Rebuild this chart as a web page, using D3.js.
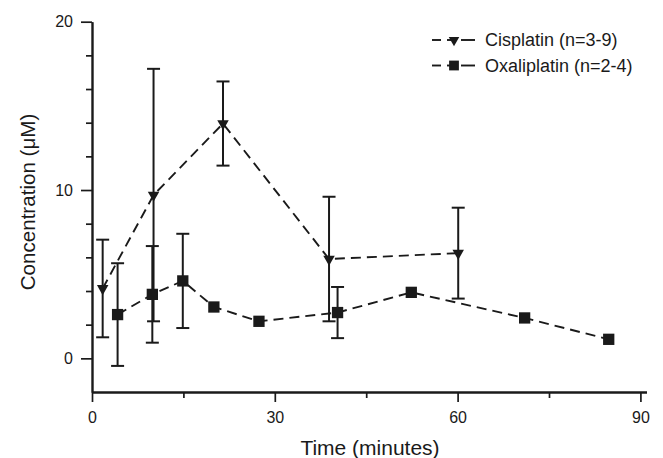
<!DOCTYPE html>
<html>
<head>
<meta charset="utf-8">
<script src="https://cdn.jsdelivr.net/npm/d3@7"></script>
<style>
  html, body { margin: 0; padding: 0; background: #fff; }
  svg { display: block; font-family: "Liberation Sans", Arial, sans-serif; }
</style>
</head>
<body>
<svg id="chart" width="663" height="458"></svg>
<script>
// ---- Data ----
const cisTime   = [1.75, 10.1, 21.5, 38.9, 60.1];
const cisConc   = [4.15, 9.7, 13.95, 5.9, 6.25];
const cisErr    = [2.9, 7.5, 2.5, 3.7, 2.7];

const oxaTime   = [4.2, 9.9, 14.9, 20.0, 27.4, 40.3, 52.4, 71.0, 84.8];
const oxaConc   = [2.6, 3.8, 4.6, 3.05, 2.2, 2.72, 3.92, 2.4, 1.13];
const oxaErr    = [3.05, 2.87, 2.8, null, null, 1.52, null, null, null];

const xMajorTicks = [0, 30, 60, 90];
const xMinorTicks = [15, 45, 75];
const yMajorTicks = [0, 10, 20];
const yMinorTicks = [2, 4, 6, 8, 12, 14, 16, 18];

const seriesNames = ["Cisplatin (n=3-9)", "Oxaliplatin (n=2-4)"];
const xTitle = "Time (minutes)";
const yTitle = "Concentration (\u03BCM)";

// ---- Layout ----
const ink = "#1a1a1a";
const svg = d3.select("#chart");
const x = d3.scaleLinear().domain([0, 91]).range([92, 646.5]);
const y = d3.scaleLinear().domain([-2, 20]).range([392, 21.7]);

const cis = cisTime.map((t, i) => ({t, c: cisConc[i], e: cisErr[i]}));
const oxa = oxaTime.map((t, i) => ({t, c: oxaConc[i], e: oxaErr[i]}));

// ---- Axes ----
function styleAxis(g) {
  g.selectAll("path.domain").attr("stroke", ink).attr("stroke-width", 1.9);
  g.selectAll(".tick line").attr("stroke", ink).attr("stroke-width", 1.7);
  g.selectAll(".tick text").attr("fill", ink).style("font-size", "16px")
    .style("font-family", '"Liberation Sans", Arial, sans-serif');
}

const yAxisMinor = svg.append("g").attr("transform", "translate(92,0)")
  .call(d3.axisLeft(y).tickValues(yMinorTicks).tickSize(6).tickSizeOuter(0).tickFormat(""));
styleAxis(yAxisMinor);
const yAxis = svg.append("g").attr("transform", "translate(92,0)")
  .call(d3.axisLeft(y).tickValues(yMajorTicks).tickSize(11).tickSizeOuter(0).tickPadding(8).tickFormat(d3.format("d")));
styleAxis(yAxis);

const xAxisMinor = svg.append("g").attr("transform", "translate(0,392)")
  .call(d3.axisBottom(x).tickValues(xMinorTicks).tickSize(6).tickSizeOuter(0).tickFormat(""));
styleAxis(xAxisMinor);
const xAxis = svg.append("g").attr("transform", "translate(0,392)")
  .call(d3.axisBottom(x).tickValues(xMajorTicks).tickSize(10).tickSizeOuter(0).tickPadding(10).tickFormat(d3.format("d")));
styleAxis(xAxis);

// ---- Titles ----
svg.append("text")
  .attr("x", 370).attr("y", 455)
  .attr("text-anchor", "middle")
  .attr("fill", ink).style("font-size", "21px")
  .text(xTitle);

svg.append("text")
  .attr("transform", "translate(35,202) rotate(-90)")
  .attr("text-anchor", "middle")
  .attr("fill", ink).style("font-size", "20.6px")
  .text(yTitle);

// ---- Lines ----
const line = d3.line().x(d => x(d.t)).y(d => y(d.c));
[cis, oxa].forEach(s => {
  svg.append("path").datum(s)
    .attr("d", line)
    .attr("fill", "none")
    .attr("stroke", ink)
    .attr("stroke-width", 1.9)
    .attr("stroke-dasharray", "10,6");
});

// ---- Error bars ----
function errorBars(data) {
  const g = svg.append("g").attr("stroke", ink).attr("stroke-width", 2);
  data.filter(d => d.e != null).forEach(d => {
    const cx = x(d.t), top = y(d.c + d.e), bot = y(d.c - d.e);
    g.append("line").attr("x1", cx).attr("x2", cx).attr("y1", top).attr("y2", bot);
    g.append("line").attr("x1", cx - 6.5).attr("x2", cx + 6.5).attr("y1", top).attr("y2", top);
    g.append("line").attr("x1", cx - 6.5).attr("x2", cx + 6.5).attr("y1", bot).attr("y2", bot);
  });
}
errorBars(cis);
errorBars(oxa);

// ---- Markers ----
function triDown(w) {
  const h = w * 0.88;
  return `M${-w/2},${-h/3}L${w/2},${-h/3}L0,${2*h/3}Z`;
}
function square(w) {
  return `M${-w/2},${-w/2}h${w}v${w}h${-w}Z`;
}
svg.append("g").selectAll("path").data(cis).join("path")
  .attr("transform", d => `translate(${x(d.t)},${y(d.c)})`)
  .attr("d", triDown(11.5))
  .attr("fill", ink);
svg.append("g").selectAll("path").data(oxa).join("path")
  .attr("transform", d => `translate(${x(d.t)},${y(d.c)})`)
  .attr("d", square(11.3))
  .attr("fill", ink);

// ---- Legend ----
const legend = svg.append("g");
const legendRows = [
  {name: seriesNames[0], shape: triDown(10.5), ly: 40},
  {name: seriesNames[1], shape: square(9.8), ly: 65.5}
];
legendRows.forEach(r => {
  const g = legend.append("g");
  [[432, 441], [447, 452], [461, 475]].forEach(([a, b]) => {
    g.append("line").attr("x1", a).attr("x2", b).attr("y1", r.ly).attr("y2", r.ly)
      .attr("stroke", ink).attr("stroke-width", 1.9);
  });
  g.append("path").attr("transform", `translate(454,${r.ly})`).attr("d", r.shape).attr("fill", ink);
  g.append("text").attr("x", 485).attr("y", r.ly + 6.2)
    .attr("fill", ink).style("font-size", "18px").text(r.name);
});
</script>
</body>
</html>
